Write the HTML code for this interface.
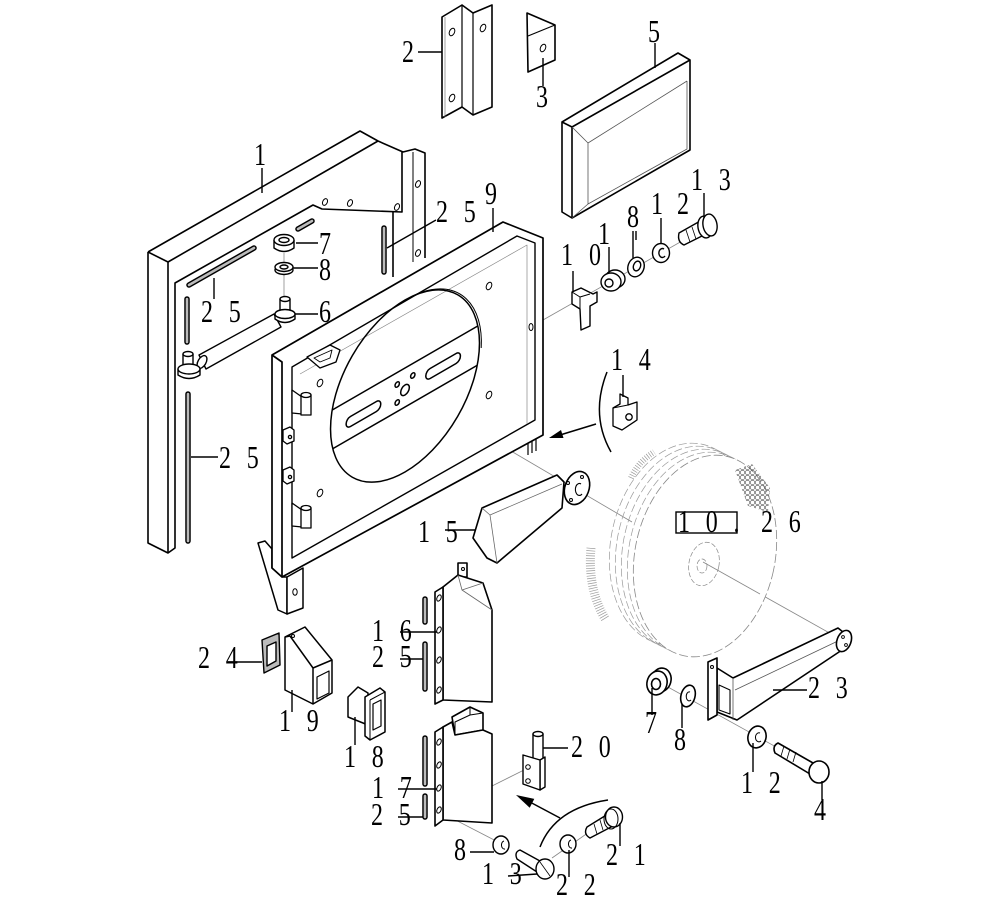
<!DOCTYPE html>
<html><head><meta charset="utf-8"><style>
html,body{margin:0;padding:0;background:#fff}
svg{display:block}
.t{font-family:"Liberation Serif",serif;font-size:32px;letter-spacing:6.5px;fill:#000}
</style></head><body>
<svg width="992" height="911" viewBox="0 0 992 911" xmlns="http://www.w3.org/2000/svg">
<defs>
<pattern id="mesh" width="5" height="5" patternUnits="userSpaceOnUse">
<circle cx="2.5" cy="2.5" r="2.2" fill="none" stroke="#555" stroke-width="0.6"/>
</pattern>
</defs>
<rect width="992" height="911" fill="#fff"/>

<!-- center / construction lines -->
<g stroke="#888" stroke-width="0.8" fill="none">
<path d="M407,390 L632,522"/>
<path d="M703,562 L842,640"/>
<path d="M543,320 L712,224"/>
<path d="M648,676 L805,763"/>
<path d="M440,812 L500,843"/>
<path d="M552,858 L592,830"/>
<path d="M528,768 L492,786"/>
<path d="M284,253 L284,300"/>
</g>

<!-- ===== Frame 1 ===== -->
<g fill="none" stroke="#000" stroke-width="1.6" stroke-linejoin="round">
<path d="M148,252 L360,131 L378,141 L403,152 L415,149 L425,153 L425,258"/>
<path d="M148,252 L148,543 L168,553 L175,548 L175,283 L313,205 L322,209 L402,212 L402,152"/>
<path d="M148,252 L168,262 L168,553"/>
<path d="M168,262 L378,141"/>
<path d="M393,212 L393,277"/>
<path d="M413,152 L413,262" stroke-width="1"/>
<path d="M528,425 L528,455 M532,425 L532,453 M536,425 L536,451" stroke-width="1.2"/>
</g>
<g fill="none" stroke="#000" stroke-width="1">
<ellipse cx="325" cy="202" rx="2.3" ry="3.5" transform="rotate(25 325 202)"/>
<ellipse cx="350" cy="203" rx="2.3" ry="3.5" transform="rotate(25 350 203)"/>
<ellipse cx="397" cy="207" rx="2.3" ry="3.5" transform="rotate(25 397 207)"/>
<ellipse cx="418" cy="184" rx="2.3" ry="3.5" transform="rotate(25 418 184)"/>
<ellipse cx="418" cy="253" rx="2.3" ry="3.5" transform="rotate(25 418 253)"/>
</g>

<!-- strips 25 -->
<g fill="none" stroke-linecap="round">
<g stroke="#000" stroke-width="5.5">
<path d="M189,285 L254,248"/><path d="M298,229 L312,221"/>
<path d="M187,299 L187,342"/><path d="M188,394 L188,541"/>
<path d="M384,228 L384,272"/>
<path d="M425,599 L425,622"/><path d="M425,644 L425,689"/>
<path d="M425,738 L425,784"/><path d="M425,796 L425,817"/>
</g>
<g stroke="#bbb" stroke-width="2.6">
<path d="M189,285 L254,248"/><path d="M298,229 L312,221"/>
<path d="M187,299 L187,342"/><path d="M188,394 L188,541"/>
<path d="M384,228 L384,272"/>
<path d="M425,599 L425,622"/><path d="M425,644 L425,689"/>
<path d="M425,738 L425,784"/><path d="M425,796 L425,817"/>
</g>
</g>

<!-- rod + bolts 6 -->
<g stroke="#000" stroke-width="1.4" fill="#fff" stroke-linejoin="round">
<path d="M199,355 L274,314 L281,327 L206,369 Z"/>
<ellipse cx="202" cy="362" rx="4" ry="7" transform="rotate(30 202 362)"/>
<path d="M183,354 L183,368 L193,368 L193,354"/>
<ellipse cx="188" cy="354" rx="5" ry="2.5"/>
<path d="M178,369 L178,375 Q189,382 200,375 L200,369"/>
<ellipse cx="189" cy="369" rx="11" ry="5"/>
<path d="M280,299 L280,312 L290,312 L290,299"/>
<ellipse cx="285" cy="299" rx="5" ry="2.5"/>
<path d="M275,314 L275,319 Q285,326 295,319 L295,314"/>
<ellipse cx="285" cy="314" rx="10" ry="4.5"/>
<!-- nut 7 -->
<path d="M274,240 L274,248 Q284,255 294,248 L294,240"/>
<ellipse cx="284" cy="240" rx="10" ry="5.5"/>
<ellipse cx="284" cy="240" rx="5" ry="2.5"/>
<!-- washer 8 -->
<ellipse cx="284" cy="270" rx="9" ry="4.5"/>
<ellipse cx="284" cy="267" rx="9" ry="4.5"/>
<ellipse cx="284" cy="267" rx="4" ry="2"/>
</g>

<!-- ===== Frame 9 leg ===== -->
<g stroke="#000" stroke-width="1.5" fill="#fff" stroke-linejoin="round">
<path d="M258,543 L265,541 L272,549 L272,568 L282,577 L287,577 L287,614 L278,610 Z"/>
<path d="M287,577 L303,568 L303,608 L287,614 Z"/>
<ellipse cx="295" cy="592" rx="2.2" ry="3.3" fill="none" stroke-width="1"/>
</g>

<!-- ===== Frame 9 ===== -->
<g stroke="#000" stroke-width="1.7" fill="#fff" stroke-linejoin="round">
<path d="M272,355 L503,222 L543,238 L543,435 L282,577 L272,568 Z"/>
<path d="M272,355 L282,362 L282,577" fill="none"/>
<path d="M292,367 L517,236 L535,243 L535,420 L292,558 Z" fill="none" stroke-width="1.4"/>
<path d="M300,374 L527,245 L527,424" fill="none" stroke="#888" stroke-width="0.7"/>
</g>
<g transform="matrix(0.866 -0.5 0 1 405 386)" fill="none" stroke="#000" stroke-width="1.5">
<circle cx="0" cy="0" r="86" vector-effect="non-scaling-stroke"/>
<path d="M20,-84 A86,86 0 0 1 88,6" stroke-width="1" vector-effect="non-scaling-stroke"/>
<path d="M-84,-18 L84,-18 M-83,21 L83,21" vector-effect="non-scaling-stroke"/>
<rect x="-68" y="-1" width="40" height="10" rx="5" vector-effect="non-scaling-stroke"/>
<rect x="24" y="-3" width="40" height="10" rx="5" vector-effect="non-scaling-stroke"/>
<circle cx="0" cy="4" r="5" vector-effect="non-scaling-stroke"/>
<circle cx="-9" cy="-6" r="2.5" vector-effect="non-scaling-stroke"/>
<circle cx="9" cy="-6" r="2.5" vector-effect="non-scaling-stroke"/>
<circle cx="-9" cy="12" r="2.5" vector-effect="non-scaling-stroke"/>
</g>
<g fill="none" stroke="#000" stroke-width="1">
<ellipse cx="320" cy="383" rx="2.5" ry="4" transform="rotate(25 320 383)"/>
<ellipse cx="320" cy="493" rx="2.5" ry="4" transform="rotate(25 320 493)"/>
<ellipse cx="489" cy="286" rx="2.5" ry="4" transform="rotate(25 489 286)"/>
<ellipse cx="489" cy="395" rx="2.5" ry="4" transform="rotate(25 489 395)"/>
<ellipse cx="531" cy="327" rx="2" ry="3.5"/>
</g>
<!-- small bracket inside frame 9 -->
<g stroke="#000" stroke-width="1.3" fill="#fff" stroke-linejoin="round">
<path d="M307,357 L330,345 L340,350 L336,362 L320,368 Z"/>
<path d="M314,358 L332,350 L330,358 L320,362 Z" fill="none" stroke-width="0.9"/>
<!-- hinges -->
<path d="M292,390 L302,397 L302,414 L292,413 Z"/>
<rect x="301" y="395" width="10" height="20"/>
<ellipse cx="306" cy="395" rx="5" ry="2.5"/>
<path d="M292,503 L302,510 L302,527 L292,526 Z"/>
<rect x="301" y="508" width="10" height="20"/>
<ellipse cx="306" cy="508" rx="5" ry="2.5"/>
<path d="M283,430 L290,427 L294,430 L294,441 L287,444 L283,441 Z"/>
<path d="M283,470 L290,467 L294,470 L294,481 L287,484 L283,481 Z"/>
<circle cx="290" cy="437" r="1.6" fill="none"/>
<circle cx="290" cy="477" r="1.6" fill="none"/>
</g>

<!-- ===== Part 2 ===== -->
<g stroke="#000" stroke-width="1.6" fill="#fff" stroke-linejoin="round">
<path d="M442,17 L462,5 L473,13 L492,5 L492,107 L473,115 L462,107 L442,118 Z"/>
<path d="M462,5 L462,107 M473,13 L473,115" fill="none" stroke-width="1.2"/>
<path d="M445,17 L445,117" fill="none" stroke="#777" stroke-width="0.7"/>
<ellipse cx="452" cy="32" rx="2.5" ry="4" transform="rotate(25 452 32)" fill="none" stroke-width="1"/>
<ellipse cx="452" cy="98" rx="2.5" ry="4" transform="rotate(25 452 98)" fill="none" stroke-width="1"/>
<ellipse cx="483" cy="28" rx="2.5" ry="4" transform="rotate(25 483 28)" fill="none" stroke-width="1"/>
<!-- Part 3 -->
<path d="M527,13 L555,25 L555,60 L528,72 Z"/>
<path d="M528,36 L555,25" fill="none" stroke-width="1.2"/>
<ellipse cx="543" cy="48" rx="2.5" ry="4" transform="rotate(25 543 48)" fill="none" stroke-width="1"/>
<!-- Part 5 -->
<path d="M562,122 L678,53 L690,60 L690,150 L572,218 L562,212 Z"/>
<path d="M562,122 L572,127 L690,60 M572,127 L572,218" fill="none"/>
<path d="M572,127 L588,143 L687,81 M588,143 L588,204 L687,149 L687,81 M572,218 L588,204" fill="none" stroke="#555" stroke-width="0.8"/>
</g>

<!-- top right hardware chain -->
<g stroke="#000" stroke-width="1.4" fill="#fff" stroke-linejoin="round">
<path d="M572,292 L581,288 L593,294 L597,292 L597,302 L590,306 L590,326 L581,330 L580,309 L572,304 Z"/>
<path d="M572,292 L580,297 L590,294 M580,297 L580,309" fill="none" stroke-width="1"/>
<ellipse cx="615" cy="279" rx="10" ry="9"/>
<ellipse cx="611" cy="282" rx="10" ry="9"/>
<ellipse cx="609" cy="283" rx="4" ry="4"/>
<ellipse cx="636" cy="267" rx="8" ry="10" transform="rotate(20 636 267)"/>
<ellipse cx="637" cy="266" rx="3.5" ry="5" transform="rotate(20 637 266)"/>
<ellipse cx="661" cy="253" rx="8.5" ry="9.5"/>
<path d="M664,249 A3.5,4.5 0 1 0 665,256" fill="none"/>
<path d="M679,233 L702,220 L708,233 L684,245 Q677,242 679,233 Z"/>
<path d="M686,230 L690,242 M692,227 L696,239" fill="none" stroke-width="0.8"/>
<ellipse cx="705" cy="227" rx="7" ry="11" transform="rotate(-10 705 227)"/>
<ellipse cx="710" cy="225" rx="7" ry="11" transform="rotate(-10 710 225)"/>
</g>

<!-- arrow near 14 -->
<g stroke="#000" stroke-width="1.5" fill="none">
<path d="M607,372 Q590,415 611,452"/>
<path d="M596,424 L560,435"/>
</g>
<polygon points="549,438 563.5,438 561,430" fill="#000"/>
<!-- Part 14 -->
<g stroke="#000" stroke-width="1.3" fill="#fff" stroke-linejoin="round">
<path d="M620,394 L628,398 L628,405 L637,402 L637,420 L622,430 L613,426 L613,408 L620,404 Z"/>
<path d="M613,408 L628,405" fill="none" stroke-width="1"/>
<circle cx="629" cy="417" r="3.2"/>
</g>

<!-- ===== Wheel 10.26 ===== -->
<g fill="none" stroke="#999" stroke-width="0.7" stroke-dasharray="8 3">
<ellipse cx="681" cy="544" rx="70" ry="102" transform="rotate(12 681 544)"/>
<ellipse cx="687" cy="547" rx="70" ry="102" transform="rotate(12 687 547)"/>
<ellipse cx="693" cy="550" rx="70" ry="102" transform="rotate(12 693 550)"/>
<ellipse cx="699" cy="553" rx="70" ry="102" transform="rotate(12 699 553)"/>
</g>
<path d="M591,548 A70,102 12 0 0 606,620" fill="none" stroke="#999" stroke-width="9" stroke-dasharray="0.7 1.8"/>
<path d="M631,478 Q638,462 654,452" fill="none" stroke="#999" stroke-width="6" stroke-dasharray="0.7 1.8"/>
<ellipse cx="705" cy="556" rx="70" ry="102" transform="rotate(12 705 556)" fill="#fff" stroke="#888" stroke-width="0.8" stroke-dasharray="9 3"/>
<path d="M735,470 L752,464 L770,488 L768,512 L748,506 Z" fill="url(#mesh)" stroke="none"/>
<g fill="none" stroke="#888" stroke-width="0.7" stroke-dasharray="5 2">
<ellipse cx="704" cy="564" rx="15" ry="22" transform="rotate(12 704 564)"/>
<ellipse cx="702" cy="566" rx="5" ry="7"/>
</g>
<path d="M703,562 L760,594" stroke="#888" stroke-width="0.8"/>
<rect x="676" y="512" width="61" height="21" fill="#fff" stroke="#000" stroke-width="1.4"/>

<!-- ===== Part 15 ===== -->
<g stroke="#000" stroke-width="1.6" fill="#fff" stroke-linejoin="round">
<path d="M482,508 L557,475 L564,482 L562,508 L497,563 L487,558 L473,538 Z"/>
<path d="M482,508 L490,515 L497,563 M490,515 L562,484" fill="none" stroke="#666" stroke-width="0.8"/>
<ellipse cx="577" cy="488" rx="12" ry="17" transform="rotate(20 577 488)"/>
<path d="M581,484 A4,6 0 1 0 582,494" fill="none" stroke-width="1.1"/>
<circle cx="582" cy="477" r="1.5" fill="none" stroke-width="1"/>
<circle cx="568" cy="483" r="1.5" fill="none" stroke-width="1"/>
<circle cx="571" cy="500" r="1.5" fill="none" stroke-width="1"/>
</g>

<!-- ===== Part 23 ===== -->
<g stroke="#000" stroke-width="1.6" fill="#fff" stroke-linejoin="round">
<path d="M717,668 L733,678 L838,628 L848,636 L842,650 L737,720 L717,712 Z"/>
<path d="M733,678 L733,720 M735,690 L840,640" fill="none" stroke="#555" stroke-width="0.8"/>
<path d="M719,685 L730,690 L730,714 L719,710 Z" fill="none" stroke-width="1.1"/>
<path d="M708,662 L717,658 L717,715 L708,720 Z"/>
<circle cx="712" cy="667" r="1.5" fill="none" stroke-width="1"/>
<ellipse cx="844" cy="641" rx="7" ry="11" transform="rotate(20 844 641)"/>
<circle cx="843" cy="637" r="1.4" fill="none" stroke-width="0.9"/>
<circle cx="846" cy="645" r="1.4" fill="none" stroke-width="0.9"/>
<!-- nut 7 right -->
<ellipse cx="661" cy="680" rx="10" ry="12" transform="rotate(15 661 680)"/>
<ellipse cx="657" cy="683" rx="10" ry="12" transform="rotate(15 657 683)"/>
<ellipse cx="656" cy="684" rx="4.5" ry="5.5"/>
<!-- washer 8 right -->
<ellipse cx="688" cy="696" rx="7" ry="11" transform="rotate(15 688 696)"/>
<path d="M690,692 A3,4.5 0 1 0 691,700" fill="none" stroke-width="1"/>
<!-- washer 12 right -->
<ellipse cx="757" cy="737" rx="9" ry="11" transform="rotate(15 757 737)"/>
<path d="M760,733 A3.5,4.5 0 1 0 761,741" fill="none" stroke-width="1"/>
<!-- bolt 4 -->
<path d="M778,743 L813,763 L810,774 L775,753 Q772,746 778,743 Z"/>
<path d="M784,746 L781,756 M790,749 L787,759 M796,752 L793,762" fill="none" stroke-width="0.8"/>
<ellipse cx="819" cy="772" rx="10" ry="11"/>
</g>

<!-- ===== Blocks 16 / 17 ===== -->
<g stroke="#000" stroke-width="1.6" fill="#fff" stroke-linejoin="round">
<rect x="458" y="563" width="9" height="14"/>
<path d="M443,587 L458,575 L483,583 L492,610 L492,702 L443,700 Z"/>
<path d="M458,575 L462,590 L483,583 M462,590 L492,610" fill="none" stroke="#666" stroke-width="0.8"/>
<path d="M435,592 L443,587 L443,700 L435,704 Z"/>
<path d="M452,717 L470,707 L483,713 L483,730 L455,735 Z"/>
<path d="M455,735 L455,722 L470,715 L483,713 M470,707 L470,715" fill="none" stroke-width="1"/>
<path d="M443,727 L452,722 L455,735 L483,730 L492,734 L492,823 L443,820 Z"/>
<path d="M435,732 L443,727 L443,820 L435,826 Z"/>
</g>
<g fill="none" stroke="#000" stroke-width="1">
<ellipse cx="439" cy="598" rx="2" ry="3.3" transform="rotate(25 439 598)"/>
<ellipse cx="439" cy="630" rx="2" ry="3.3" transform="rotate(25 439 630)"/>
<ellipse cx="439" cy="660" rx="2" ry="3.3" transform="rotate(25 439 660)"/>
<ellipse cx="439" cy="690" rx="2" ry="3.3" transform="rotate(25 439 690)"/>
<ellipse cx="439" cy="742" rx="2" ry="3.3" transform="rotate(25 439 742)"/>
<ellipse cx="439" cy="765" rx="2" ry="3.3" transform="rotate(25 439 765)"/>
<ellipse cx="439" cy="788" rx="2" ry="3.3" transform="rotate(25 439 788)"/>
<ellipse cx="439" cy="810" rx="2" ry="3.3" transform="rotate(25 439 810)"/>
<circle cx="463" cy="569" r="1.5"/>
</g>

<!-- Part 20 -->
<g stroke="#000" stroke-width="1.4" fill="#fff" stroke-linejoin="round">
<rect x="533" y="734" width="10" height="28"/>
<ellipse cx="538" cy="734" rx="5" ry="2.5"/>
<path d="M540,760 L545,757 L545,787 L540,790 Z"/>
<path d="M523,755 L540,760 L540,790 L523,784 Z"/>
<circle cx="528" cy="767" r="2.3" fill="none" stroke-width="1"/>
<circle cx="528" cy="781" r="2.3" fill="none" stroke-width="1"/>
</g>

<!-- lower arrow -->
<g stroke="#000" stroke-width="1.5" fill="none">
<path d="M540,847 Q555,808 608,800"/>
<path d="M560,818 L528,801"/>
</g>
<polygon points="516,795 534.3,798.9 529.7,807.7" fill="#000"/>

<!-- lower hardware -->
<g stroke="#000" stroke-width="1.4" fill="#fff" stroke-linejoin="round">
<ellipse cx="501" cy="845" rx="8" ry="9"/>
<path d="M504,841 A3,4 0 1 0 505,849" fill="none" stroke-width="1"/>
<path d="M520,850 L540,861 L537,872 L517,859 Q514,852 520,850 Z"/>
<ellipse cx="545" cy="869" rx="9" ry="10"/>
<path d="M540,862 L550,876" fill="none" stroke-width="0.8"/>
<ellipse cx="568" cy="844" rx="8" ry="9"/>
<path d="M571,840 A3,4 0 1 0 572,848" fill="none" stroke-width="1"/>
<path d="M587,827 L608,814 L613,826 L590,838 Q583,834 587,827 Z"/>
<path d="M594,824 L597,834 M600,820 L603,830" fill="none" stroke-width="0.8"/>
<ellipse cx="614" cy="817" rx="8.5" ry="10"/>
<ellipse cx="611" cy="819" rx="7" ry="10" fill="none" stroke-width="1"/>
</g>

<!-- Part 24 -->
<g stroke="#000" stroke-width="1.4" stroke-linejoin="round">
<path d="M262,640 L279,633 L280,665 L264,673 Z" fill="#bbb"/>
<path d="M267,646 L276,642 L276,661 L267,666 Z" fill="#fff"/>
</g>
<!-- Part 19 -->
<g stroke="#000" stroke-width="1.5" fill="#fff" stroke-linejoin="round">
<path d="M285,637 L305,627 L332,660 L332,693 L313,704 L285,690 Z"/>
<path d="M285,637 L290,636 L313,668 L332,660 M313,668 L313,704" fill="none"/>
<path d="M317,677 L329,671 L329,693 L317,699 Z" fill="none" stroke-width="1.2"/>
<circle cx="293" cy="636" r="1.5" fill="none" stroke-width="1"/>
</g>
<!-- Part 18 -->
<g stroke="#000" stroke-width="1.5" fill="#fff" stroke-linejoin="round">
<path d="M348,697 L358,687 L368,693 L368,725 L348,717 Z"/>
<path d="M365,697 L380,688 L385,692 L385,732 L370,740 L365,736 Z"/>
<path d="M370,700 L385,692 M370,700 L370,740" fill="none" stroke-width="1"/>
<path d="M373,704 L381,700 L381,726 L373,730 Z" fill="none" stroke-width="1.2"/>
</g>

<!-- ===== leader lines ===== -->
<g stroke="#000" stroke-width="1.4" fill="none">
<path d="M418,52 L442,52"/>
<path d="M543,58 L543,86"/>
<path d="M655,43 L655,68"/>
<path d="M262,168 L262,193"/>
<path d="M387,248 L436,220"/>
<path d="M493,208 L493,232"/>
<path d="M296,243 L318,243"/>
<path d="M293,268 L318,268"/>
<path d="M295,314 L318,314"/>
<path d="M214,278 L214,299"/>
<path d="M704,193 L704,218"/>
<path d="M661,218 L661,244"/>
<path d="M633,231 L633,258 M636,231 L636,240"/>
<path d="M609,247 L609,273"/>
<path d="M573,271 L573,292"/>
<path d="M623,375 L623,397"/>
<path d="M191,457 L218,457"/>
<path d="M445,530 L476,530"/>
<path d="M400,632 L437,632"/>
<path d="M400,659 L423,659"/>
<path d="M228,662 L262,662"/>
<path d="M292,690 L292,712"/>
<path d="M355,717 L355,745"/>
<path d="M398,789 L437,789"/>
<path d="M398,817 L423,817"/>
<path d="M470,852 L494,852"/>
<path d="M508,876 L537,874"/>
<path d="M569,850 L569,877"/>
<path d="M620,823 L620,846"/>
<path d="M543,748 L568,748"/>
<path d="M773,690 L807,690"/>
<path d="M652,688 L652,715"/>
<path d="M682,704 L682,728"/>
<path d="M753,743 L753,772"/>
<path d="M822,781 L822,800"/>
</g>

<!-- ===== labels ===== -->
<g>
<text class="t" transform="translate(402,62) scale(.75,1)">2</text>
<text class="t" transform="translate(536,107) scale(.75,1)">3</text>
<text class="t" transform="translate(648,42) scale(.75,1)">5</text>
<text class="t" transform="translate(254,165) scale(.75,1)">1</text>
<text class="t" transform="translate(436,222) scale(.75,1)">2 5</text>
<text class="t" transform="translate(485,204) scale(.75,1)">9</text>
<text class="t" transform="translate(319,254) scale(.75,1)">7</text>
<text class="t" transform="translate(319,280) scale(.75,1)">8</text>
<text class="t" transform="translate(201,322) scale(.75,1)">2 5</text>
<text class="t" transform="translate(319,322) scale(.75,1)">6</text>
<text class="t" transform="translate(691,190) scale(.75,1)">1 3</text>
<text class="t" transform="translate(651,214) scale(.75,1)">1</text>
<text class="t" transform="translate(677,214) scale(.75,1)">2</text>
<text class="t" transform="translate(627,227) scale(.75,1)">8</text>
<text class="t" transform="translate(598,244) scale(.75,1)">1</text>
<text class="t" transform="translate(589,265) scale(.75,1)">0</text>
<text class="t" transform="translate(561,265) scale(.75,1)">1</text>
<text class="t" transform="translate(611,370) scale(.75,1)">1 4</text>
<text class="t" transform="translate(219,468) scale(.75,1)">2 5</text>
<text class="t" transform="translate(418,542) scale(.75,1)">1 5</text>
<text class="t" transform="translate(678,532) scale(.75,1)">1 0 .</text>
<text class="t" transform="translate(761,532) scale(.75,1)">2 6</text>
<text class="t" transform="translate(372,641) scale(.75,1)">1 6</text>
<text class="t" transform="translate(372,667) scale(.75,1)">2 5</text>
<text class="t" transform="translate(198,668) scale(.75,1)">2 4</text>
<text class="t" transform="translate(279,731) scale(.75,1)">1 9</text>
<text class="t" transform="translate(344,767) scale(.75,1)">1 8</text>
<text class="t" transform="translate(372,798) scale(.75,1)">1 7</text>
<text class="t" transform="translate(371,825) scale(.75,1)">2 5</text>
<text class="t" transform="translate(454,860) scale(.75,1)">8</text>
<text class="t" transform="translate(482,884) scale(.75,1)">1 3</text>
<text class="t" transform="translate(556,895) scale(.75,1)">2 2</text>
<text class="t" transform="translate(606,865) scale(.75,1)">2 1</text>
<text class="t" transform="translate(571,757) scale(.75,1)">2 0</text>
<text class="t" transform="translate(808,698) scale(.75,1)">2 3</text>
<text class="t" transform="translate(645,733) scale(.75,1)">7</text>
<text class="t" transform="translate(674,750) scale(.75,1)">8</text>
<text class="t" transform="translate(741,793) scale(.75,1)">1 2</text>
<text class="t" transform="translate(814,820) scale(.75,1)">4</text>
</g>
</svg>
</body></html>
